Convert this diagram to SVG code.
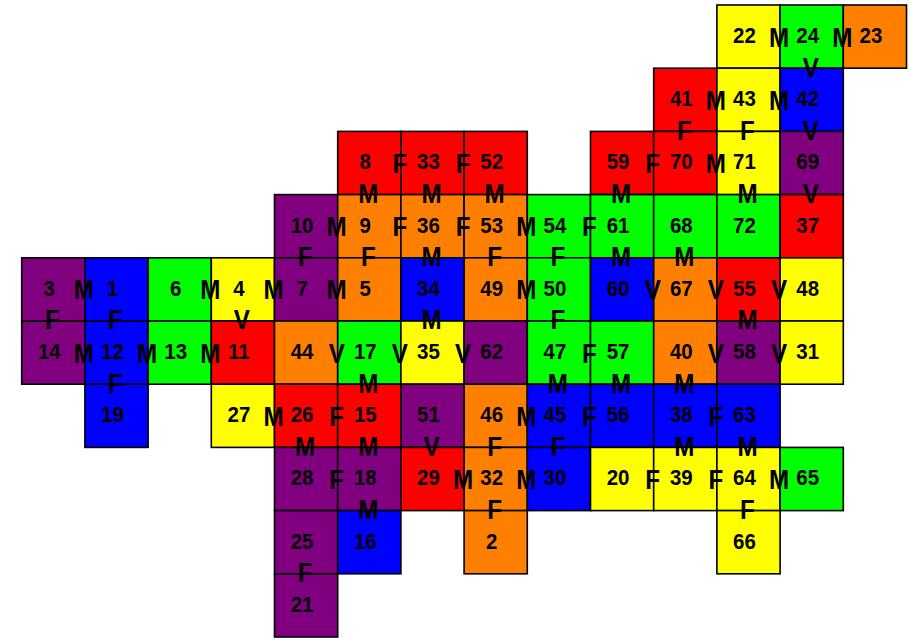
<svg xmlns="http://www.w3.org/2000/svg" width="910" height="639" viewBox="0 0 910 639">
<style>
rect{stroke:#000;stroke-width:1.6;width:63.2px;height:63.2px}
.r{fill:#FF0000}.y{fill:#FFFF00}.g{fill:#00FF00}.o{fill:#FF8000}.b{fill:#0000FF}.p{fill:#800080}
.n{font-family:"Liberation Sans",Arial,sans-serif;font-weight:bold;font-size:22px;text-anchor:middle;fill:#000;transform-box:fill-box;transform-origin:center;transform:scaleX(0.93)}
.l{font-family:"Liberation Sans",Arial,sans-serif;font-weight:bold;font-size:27.5px;text-anchor:middle;fill:#000;transform-box:fill-box;transform-origin:center;transform:scaleX(0.88)}
</style>
<rect width="910" height="639" style="fill:#fff;stroke:none;width:910px;height:639px"/>
<g id="nodes">
<g id="n22" transform="translate(716.9,5)"><rect class="y" width="63.2" height="63.2"/><text class="n" x="27.6" y="38">22</text></g>
<g id="n24" transform="translate(780.1,5)"><rect class="g" width="63.2" height="63.2"/><text class="n" x="27.6" y="38">24</text></g>
<g id="n23" transform="translate(843.3,5)"><rect class="o" width="63.2" height="63.2"/><text class="n" x="27.6" y="38">23</text></g>
<g id="n41" transform="translate(653.7,68.2)"><rect class="r" width="63.2" height="63.2"/><text class="n" x="27.6" y="38">41</text></g>
<g id="n43" transform="translate(716.9,68.2)"><rect class="y" width="63.2" height="63.2"/><text class="n" x="27.6" y="38">43</text></g>
<g id="n42" transform="translate(780.1,68.2)"><rect class="b" width="63.2" height="63.2"/><text class="n" x="27.6" y="38">42</text></g>
<g id="n8" transform="translate(337.7,131.4)"><rect class="r" width="63.2" height="63.2"/><text class="n" x="27.6" y="38">8</text></g>
<g id="n33" transform="translate(400.9,131.4)"><rect class="r" width="63.2" height="63.2"/><text class="n" x="27.6" y="38">33</text></g>
<g id="n52" transform="translate(464.1,131.4)"><rect class="r" width="63.2" height="63.2"/><text class="n" x="27.6" y="38">52</text></g>
<g id="n59" transform="translate(590.5,131.4)"><rect class="r" width="63.2" height="63.2"/><text class="n" x="27.6" y="38">59</text></g>
<g id="n70" transform="translate(653.7,131.4)"><rect class="r" width="63.2" height="63.2"/><text class="n" x="27.6" y="38">70</text></g>
<g id="n71" transform="translate(716.9,131.4)"><rect class="y" width="63.2" height="63.2"/><text class="n" x="27.6" y="38">71</text></g>
<g id="n69" transform="translate(780.1,131.4)"><rect class="p" width="63.2" height="63.2"/><text class="n" x="27.6" y="38">69</text></g>
<g id="n10" transform="translate(274.5,194.6)"><rect class="p" width="63.2" height="63.2"/><text class="n" x="27.6" y="38">10</text></g>
<g id="n9" transform="translate(337.7,194.6)"><rect class="o" width="63.2" height="63.2"/><text class="n" x="27.6" y="38">9</text></g>
<g id="n36" transform="translate(400.9,194.6)"><rect class="o" width="63.2" height="63.2"/><text class="n" x="27.6" y="38">36</text></g>
<g id="n53" transform="translate(464.1,194.6)"><rect class="o" width="63.2" height="63.2"/><text class="n" x="27.6" y="38">53</text></g>
<g id="n54" transform="translate(527.3,194.6)"><rect class="g" width="63.2" height="63.2"/><text class="n" x="27.6" y="38">54</text></g>
<g id="n61" transform="translate(590.5,194.6)"><rect class="g" width="63.2" height="63.2"/><text class="n" x="27.6" y="38">61</text></g>
<g id="n68" transform="translate(653.7,194.6)"><rect class="g" width="63.2" height="63.2"/><text class="n" x="27.6" y="38">68</text></g>
<g id="n72" transform="translate(716.9,194.6)"><rect class="g" width="63.2" height="63.2"/><text class="n" x="27.6" y="38">72</text></g>
<g id="n37" transform="translate(780.1,194.6)"><rect class="r" width="63.2" height="63.2"/><text class="n" x="27.6" y="38">37</text></g>
<g id="n3" transform="translate(21.7,257.8)"><rect class="p" width="63.2" height="63.2"/><text class="n" x="27.6" y="38">3</text></g>
<g id="n1" transform="translate(84.9,257.8)"><rect class="b" width="63.2" height="63.2"/><text class="n" x="27.6" y="38">1</text></g>
<g id="n6" transform="translate(148.1,257.8)"><rect class="g" width="63.2" height="63.2"/><text class="n" x="27.6" y="38">6</text></g>
<g id="n4" transform="translate(211.3,257.8)"><rect class="y" width="63.2" height="63.2"/><text class="n" x="27.6" y="38">4</text></g>
<g id="n7" transform="translate(274.5,257.8)"><rect class="p" width="63.2" height="63.2"/><text class="n" x="27.6" y="38">7</text></g>
<g id="n5" transform="translate(337.7,257.8)"><rect class="o" width="63.2" height="63.2"/><text class="n" x="27.6" y="38">5</text></g>
<g id="n34" transform="translate(400.9,257.8)"><rect class="b" width="63.2" height="63.2"/><text class="n" x="27.6" y="38">34</text></g>
<g id="n49" transform="translate(464.1,257.8)"><rect class="o" width="63.2" height="63.2"/><text class="n" x="27.6" y="38">49</text></g>
<g id="n50" transform="translate(527.3,257.8)"><rect class="g" width="63.2" height="63.2"/><text class="n" x="27.6" y="38">50</text></g>
<g id="n60" transform="translate(590.5,257.8)"><rect class="b" width="63.2" height="63.2"/><text class="n" x="27.6" y="38">60</text></g>
<g id="n67" transform="translate(653.7,257.8)"><rect class="o" width="63.2" height="63.2"/><text class="n" x="27.6" y="38">67</text></g>
<g id="n55" transform="translate(716.9,257.8)"><rect class="r" width="63.2" height="63.2"/><text class="n" x="27.6" y="38">55</text></g>
<g id="n48" transform="translate(780.1,257.8)"><rect class="y" width="63.2" height="63.2"/><text class="n" x="27.6" y="38">48</text></g>
<g id="n14" transform="translate(21.7,321)"><rect class="p" width="63.2" height="63.2"/><text class="n" x="27.6" y="38">14</text></g>
<g id="n12" transform="translate(84.9,321)"><rect class="b" width="63.2" height="63.2"/><text class="n" x="27.6" y="38">12</text></g>
<g id="n13" transform="translate(148.1,321)"><rect class="g" width="63.2" height="63.2"/><text class="n" x="27.6" y="38">13</text></g>
<g id="n11" transform="translate(211.3,321)"><rect class="r" width="63.2" height="63.2"/><text class="n" x="27.6" y="38">11</text></g>
<g id="n44" transform="translate(274.5,321)"><rect class="o" width="63.2" height="63.2"/><text class="n" x="27.6" y="38">44</text></g>
<g id="n17" transform="translate(337.7,321)"><rect class="g" width="63.2" height="63.2"/><text class="n" x="27.6" y="38">17</text></g>
<g id="n35" transform="translate(400.9,321)"><rect class="y" width="63.2" height="63.2"/><text class="n" x="27.6" y="38">35</text></g>
<g id="n62" transform="translate(464.1,321)"><rect class="p" width="63.2" height="63.2"/><text class="n" x="27.6" y="38">62</text></g>
<g id="n47" transform="translate(527.3,321)"><rect class="g" width="63.2" height="63.2"/><text class="n" x="27.6" y="38">47</text></g>
<g id="n57" transform="translate(590.5,321)"><rect class="g" width="63.2" height="63.2"/><text class="n" x="27.6" y="38">57</text></g>
<g id="n40" transform="translate(653.7,321)"><rect class="o" width="63.2" height="63.2"/><text class="n" x="27.6" y="38">40</text></g>
<g id="n58" transform="translate(716.9,321)"><rect class="p" width="63.2" height="63.2"/><text class="n" x="27.6" y="38">58</text></g>
<g id="n31" transform="translate(780.1,321)"><rect class="y" width="63.2" height="63.2"/><text class="n" x="27.6" y="38">31</text></g>
<g id="n19" transform="translate(84.9,384.2)"><rect class="b" width="63.2" height="63.2"/><text class="n" x="27.6" y="38">19</text></g>
<g id="n27" transform="translate(211.3,384.2)"><rect class="y" width="63.2" height="63.2"/><text class="n" x="27.6" y="38">27</text></g>
<g id="n26" transform="translate(274.5,384.2)"><rect class="r" width="63.2" height="63.2"/><text class="n" x="27.6" y="38">26</text></g>
<g id="n15" transform="translate(337.7,384.2)"><rect class="r" width="63.2" height="63.2"/><text class="n" x="27.6" y="38">15</text></g>
<g id="n51" transform="translate(400.9,384.2)"><rect class="p" width="63.2" height="63.2"/><text class="n" x="27.6" y="38">51</text></g>
<g id="n46" transform="translate(464.1,384.2)"><rect class="o" width="63.2" height="63.2"/><text class="n" x="27.6" y="38">46</text></g>
<g id="n45" transform="translate(527.3,384.2)"><rect class="b" width="63.2" height="63.2"/><text class="n" x="27.6" y="38">45</text></g>
<g id="n56" transform="translate(590.5,384.2)"><rect class="b" width="63.2" height="63.2"/><text class="n" x="27.6" y="38">56</text></g>
<g id="n38" transform="translate(653.7,384.2)"><rect class="b" width="63.2" height="63.2"/><text class="n" x="27.6" y="38">38</text></g>
<g id="n63" transform="translate(716.9,384.2)"><rect class="b" width="63.2" height="63.2"/><text class="n" x="27.6" y="38">63</text></g>
<g id="n28" transform="translate(274.5,447.4)"><rect class="p" width="63.2" height="63.2"/><text class="n" x="27.6" y="38">28</text></g>
<g id="n18" transform="translate(337.7,447.4)"><rect class="p" width="63.2" height="63.2"/><text class="n" x="27.6" y="38">18</text></g>
<g id="n29" transform="translate(400.9,447.4)"><rect class="r" width="63.2" height="63.2"/><text class="n" x="27.6" y="38">29</text></g>
<g id="n32" transform="translate(464.1,447.4)"><rect class="o" width="63.2" height="63.2"/><text class="n" x="27.6" y="38">32</text></g>
<g id="n30" transform="translate(527.3,447.4)"><rect class="b" width="63.2" height="63.2"/><text class="n" x="27.6" y="38">30</text></g>
<g id="n20" transform="translate(590.5,447.4)"><rect class="y" width="63.2" height="63.2"/><text class="n" x="27.6" y="38">20</text></g>
<g id="n39" transform="translate(653.7,447.4)"><rect class="y" width="63.2" height="63.2"/><text class="n" x="27.6" y="38">39</text></g>
<g id="n64" transform="translate(716.9,447.4)"><rect class="y" width="63.2" height="63.2"/><text class="n" x="27.6" y="38">64</text></g>
<g id="n65" transform="translate(780.1,447.4)"><rect class="g" width="63.2" height="63.2"/><text class="n" x="27.6" y="38">65</text></g>
<g id="n25" transform="translate(274.5,510.6)"><rect class="p" width="63.2" height="63.2"/><text class="n" x="27.6" y="38">25</text></g>
<g id="n16" transform="translate(337.7,510.6)"><rect class="b" width="63.2" height="63.2"/><text class="n" x="27.6" y="38">16</text></g>
<g id="n2" transform="translate(464.1,510.6)"><rect class="o" width="63.2" height="63.2"/><text class="n" x="27.6" y="38">2</text></g>
<g id="n66" transform="translate(716.9,510.6)"><rect class="y" width="63.2" height="63.2"/><text class="n" x="27.6" y="38">66</text></g>
<g id="n21" transform="translate(274.5,573.8)"><rect class="p" width="63.2" height="63.2"/><text class="n" x="27.6" y="38">21</text></g>
</g>
<g id="connectors">
<text class="l" x="779.1" y="46.6">M</text>
<text class="l" x="842.3" y="46.6">M</text>
<text class="l" x="715.9" y="109.8">M</text>
<text class="l" x="779.1" y="109.8">M</text>
<text class="l" x="399.9" y="173">F</text>
<text class="l" x="463.1" y="173">F</text>
<text class="l" x="652.7" y="173">F</text>
<text class="l" x="715.9" y="173">M</text>
<text class="l" x="336.7" y="236.2">M</text>
<text class="l" x="399.9" y="236.2">F</text>
<text class="l" x="463.1" y="236.2">F</text>
<text class="l" x="526.3" y="236.2">M</text>
<text class="l" x="589.5" y="236.2">F</text>
<text class="l" x="83.9" y="299.4">M</text>
<text class="l" x="210.3" y="299.4">M</text>
<text class="l" x="273.5" y="299.4">M</text>
<text class="l" x="336.7" y="299.4">M</text>
<text class="l" x="526.3" y="299.4">M</text>
<text class="l" x="652.7" y="299.4">V</text>
<text class="l" x="715.9" y="299.4">V</text>
<text class="l" x="779.1" y="299.4">V</text>
<text class="l" x="83.9" y="362.6">M</text>
<text class="l" x="147.1" y="362.6">M</text>
<text class="l" x="210.3" y="362.6">M</text>
<text class="l" x="336.7" y="362.6">V</text>
<text class="l" x="399.9" y="362.6">V</text>
<text class="l" x="463.1" y="362.6">V</text>
<text class="l" x="589.5" y="362.6">F</text>
<text class="l" x="715.9" y="362.6">V</text>
<text class="l" x="779.1" y="362.6">V</text>
<text class="l" x="273.5" y="425.8">M</text>
<text class="l" x="336.7" y="425.8">F</text>
<text class="l" x="526.3" y="425.8">M</text>
<text class="l" x="589.5" y="425.8">F</text>
<text class="l" x="715.9" y="425.8">F</text>
<text class="l" x="336.7" y="489">F</text>
<text class="l" x="463.1" y="489">M</text>
<text class="l" x="526.3" y="489">M</text>
<text class="l" x="652.7" y="489">F</text>
<text class="l" x="715.9" y="489">F</text>
<text class="l" x="779.1" y="489">M</text>
<text class="l" x="810.7" y="76.7">V</text>
<text class="l" x="684.3" y="139.9">F</text>
<text class="l" x="747.5" y="139.9">F</text>
<text class="l" x="810.7" y="139.9">V</text>
<text class="l" x="368.3" y="203.1">M</text>
<text class="l" x="431.5" y="203.1">M</text>
<text class="l" x="494.7" y="203.1">M</text>
<text class="l" x="621.1" y="203.1">M</text>
<text class="l" x="747.5" y="203.1">M</text>
<text class="l" x="810.7" y="203.1">V</text>
<text class="l" x="305.1" y="266.3">F</text>
<text class="l" x="368.3" y="266.3">F</text>
<text class="l" x="431.5" y="266.3">M</text>
<text class="l" x="494.7" y="266.3">F</text>
<text class="l" x="557.9" y="266.3">F</text>
<text class="l" x="621.1" y="266.3">M</text>
<text class="l" x="684.3" y="266.3">M</text>
<text class="l" x="52.3" y="329.5">F</text>
<text class="l" x="115.5" y="329.5">F</text>
<text class="l" x="241.9" y="329.5">V</text>
<text class="l" x="431.5" y="329.5">M</text>
<text class="l" x="557.9" y="329.5">F</text>
<text class="l" x="747.5" y="329.5">M</text>
<text class="l" x="115.5" y="392.7">F</text>
<text class="l" x="368.3" y="392.7">M</text>
<text class="l" x="557.9" y="392.7">M</text>
<text class="l" x="621.1" y="392.7">M</text>
<text class="l" x="684.3" y="392.7">M</text>
<text class="l" x="305.1" y="455.9">M</text>
<text class="l" x="368.3" y="455.9">M</text>
<text class="l" x="431.5" y="455.9">V</text>
<text class="l" x="494.7" y="455.9">F</text>
<text class="l" x="557.9" y="455.9">F</text>
<text class="l" x="684.3" y="455.9">M</text>
<text class="l" x="747.5" y="455.9">M</text>
<text class="l" x="368.3" y="519.1">M</text>
<text class="l" x="494.7" y="519.1">F</text>
<text class="l" x="747.5" y="519.1">F</text>
<text class="l" x="305.1" y="582.3">F</text>
</g>
</svg>
